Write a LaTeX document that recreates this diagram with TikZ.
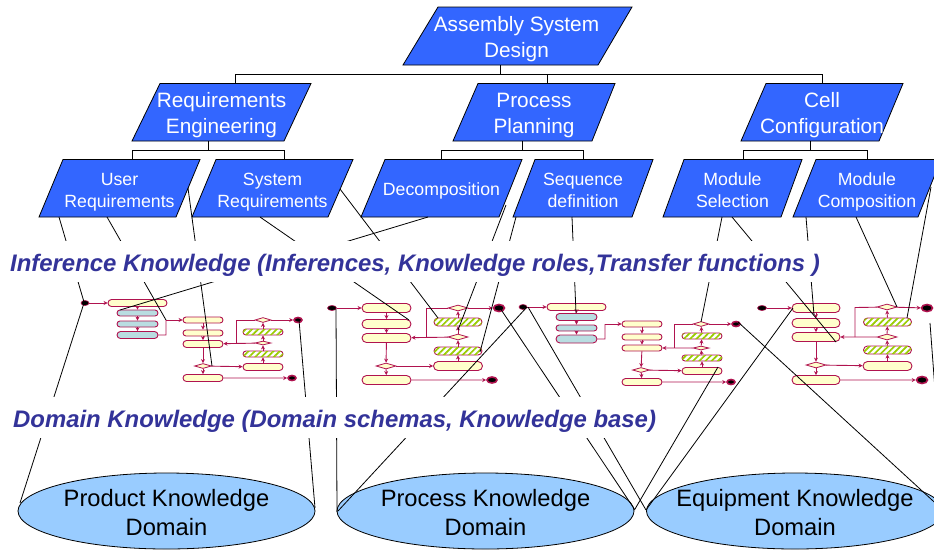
\documentclass[tikz,border=0pt]{standalone}
\usepackage{fontspec}
\setmainfont{Liberation Sans}
\usetikzlibrary{shapes.geometric,shapes.misc,arrows.meta,patterns.meta,fit}
\definecolor{boxblue}{HTML}{3366FF}
\definecolor{domblue}{HTML}{99CCFF}
\definecolor{headblue}{HTML}{333399}
\definecolor{actred}{HTML}{B0134F}
\definecolor{creamc}{HTML}{FFFFCC}
\definecolor{tealc}{HTML}{B9DDE1}
\definecolor{hatchc}{HTML}{99CC00}
\newcommand{\bandtext}[1]{\smash{\raisebox{-10pt}{#1}}}
% name, x top-left, x top-right, x bottom-right, x bottom-left, y top, y bottom, label style, text
\newcommand{\slantbox}[9]{%
  \filldraw[parashape] (#2,#6) -- (#3,#6) -- (#4,#7) -- (#5,#7) -- cycle;
  \coordinate (#1nw) at (#5,#6); \coordinate (#1se) at (#3,#7);
  \node[fit=(#1nw)(#1se),inner sep=0pt,label={[#8]center:{#9}}] (#1) {};
}
\tikzset{
  parashape/.style={draw=black,line width=.8pt,fill=boxblue},
  bigtext/.style={text=white,align=center,inner sep=0pt,font=\fontsize{20.8}{25.6}\selectfont},
  smalltext/.style={text=white,align=center,inner sep=0pt,font=\fontsize{17.7}{22}\selectfont},
  domnode/.style={ellipse,draw=black,line width=.8pt,fill=domblue,minimum width=297pt,minimum height=76pt,inner sep=0pt},
  domtext/.style={align=center,inner sep=0pt,yshift=-1.5pt,font=\fontsize{23.7}{29}\selectfont},
  treeline/.style={draw=black,line width=.9pt},
  linkline/.style={draw=black,line width=.8pt},
  bandhead/.style={fill=white,text=headblue,inner xsep=2pt,inner ysep=0pt,minimum height=41pt,anchor=west,
    font=\fontsize{23.9}{26}\selectfont\bfseries\itshape},
  pillnode/.style 2 args={rounded rectangle,draw=actred,line width=.9pt,fill=creamc,inner sep=0pt,minimum width=#1pt,minimum height=#2pt},
  tealnode/.style 2 args={pillnode={#1}{#2},fill=tealc},
  hatchnode/.style 2 args={pillnode={#1}{#2},fill=white,postaction={pattern={Lines[angle=45,distance=4.4pt,line width=1.7pt]},pattern color=hatchc}},
  decnode/.style 2 args={diamond,draw=actred,line width=.8pt,fill=creamc,inner sep=0pt,minimum width=#1pt,minimum height=#2pt},
  startnode/.style 2 args={ellipse,draw=actred,line width=.6pt,fill=black,inner sep=0pt,minimum width=#1pt,minimum height=#2pt},
  endnode/.style 2 args={ellipse,draw=actred,line width=1.6pt,fill=black,inner sep=0pt,minimum width=#1pt,minimum height=#2pt},
  flowline/.style={draw=actred,line width=.9pt,-{Stealth[length=4pt,width=4pt]}},
  flowplain/.style={draw=actred,line width=.9pt},
}
\begin{document}
\begin{tikzpicture}[x=1pt,y=-1pt]
\useasboundingbox (0,0) rectangle (934,550);
\clip (0,0) rectangle (934,550);
% domains
\node[domnode,label={[domtext]center:{Product Knowledge\\Domain}}] (dprod) at (166.5,511) {};
\node[domnode,label={[domtext]center:{Process Knowledge\\Domain}}] (dproc) at (485.5,511) {};
\node[domnode,label={[domtext]center:{Equipment Knowledge\\Domain}}] (dequip) at (795,511) {};
% hierarchy
\slantbox{top}{438}{632}{598}{403}{7}{65}{bigtext,xshift=-1pt,yshift=-3pt}{Assembly System\\Design}
\slantbox{req}{160}{311}{284}{132}{83.5}{141}{bigtext,yshift=-3pt}{Requirements\\Engineering}
\slantbox{proc}{478}{615}{592}{453}{83.5}{141}{bigtext,yshift=-3pt}{Process\\Planning}
\slantbox{cell}{766}{903}{879}{741}{83.5}{141}{bigtext,yshift=-3pt}{Cell\\Configuration}
\slantbox{user}{63}{200}{176}{39}{159.5}{217}{smalltext,yshift=-4pt}{User\\Requirements}
\slantbox{sys}{216}{353}{328}{192}{159.5}{217}{smalltext,yshift=-4pt}{System\\Requirements}
\slantbox{deco}{385}{522}{499}{361}{159.5}{217}{smalltext,yshift=-3pt}{Decomposition}
\slantbox{seq}{535}{653}{632}{513}{159.5}{217}{smalltext,yshift=-2pt}{Sequence\\definition}
\slantbox{modsel}{684}{802}{781}{663}{159.5}{217}{smalltext,yshift=-2pt}{Module\\Selection}
\slantbox{modcomp}{816}{941}{918}{793}{159.5}{217}{smalltext,yshift=-4pt}{Module\\Composition}
\coordinate (b0) at (500,74); \coordinate (bL) at (235,74); \coordinate (bM) at (547,74); \coordinate (bR) at (822,74);
\draw[treeline] (top.south -| b0) -- (b0);
\draw[treeline] (req.north -| bL) -- (bL) -- (bR) -- (cell.north -| bR);
\draw[treeline] (bM) -- (proc.north -| bM);
\coordinate (r0) at (208,150); \coordinate (rL) at (132,150); \coordinate (rR) at (284,150);
\draw[treeline] (req.south -| r0) -- (r0);
\draw[treeline] (user.north -| rL) -- (rL) -- (rR) -- (sys.north -| rR);
\coordinate (p0) at (522,150); \coordinate (pL) at (441,150); \coordinate (pR) at (583,150);
\draw[treeline] (proc.south -| p0) -- (p0);
\draw[treeline] (deco.north -| pL) -- (pL) -- (pR) -- (seq.north -| pR);
\coordinate (c0) at (810,150); \coordinate (cL) at (743,150); \coordinate (cR) at (867,150);
\draw[treeline] (cell.south -| c0) -- (c0);
\draw[treeline] (modsel.north -| cL) -- (cL) -- (cR) -- (modcomp.north -| cR);

% activity 1
\node[startnode={8}{5}] (as) at (85,303) {};
\node[pillnode={59}{7}] (a0) at (137.5,303) {};
\node[tealnode={41}{6}] (at1) at (137.5,313) {};
\node[tealnode={41}{6}] (at2) at (137.5,324) {};
\node[tealnode={41}{7}] (at3) at (137.5,335) {};
\node[pillnode={40}{6}] (a1) at (203,320) {};
\node[pillnode={40}{6}] (a2) at (203,333) {};
\node[pillnode={40}{7}] (a3) at (203,344) {};
\node[decnode={17}{5}] (ad1) at (203,366) {};
\node[pillnode={40}{7}] (a4) at (203,378) {};
\node[pillnode={40}{7}] (ar) at (263,367) {};
\node[hatchnode={40}{6}] (ag1) at (263,354) {};
\node[decnode={16}{4}] (ad2) at (263,343) {};
\node[hatchnode={40}{6}] (ag2) at (263,332) {};
\node[decnode={16}{5}] (ad3) at (263,320) {};
\node[endnode={8}{5}] (ae1) at (298,320) {};
\node[endnode={8}{5}] (ae2) at (292,378) {};
\coordinate (aj1) at (166,335); \coordinate (aj2) at (166,320); \coordinate (aj3) at (236,343); \coordinate (aj4) at (236,320);
\draw[flowline] (as) -- (a0);
\draw[flowline] (a0) -- (at1);
\draw[flowline] (at1) -- (at2);
\draw[flowline] (at2) -- (at3);
\draw[flowplain] (at3) -- (aj1) -- (aj2);
\draw[flowline] (aj2) -- (a1);
\draw[flowline] (a1) -- (a2);
\draw[flowline] (a2) -- (a3);
\draw[flowline] (a3) -- (ad1);
\draw[flowline] (ad1) -- (a4);
\draw[flowline] (a4) -- (ae2);
\draw[flowline] (ad1) -- (ar);
\draw[flowline] (ar) -- (ag1);
\draw[flowline] (ag1) -- (ad2);
\draw[flowline] (ad2) -- (ag2);
\draw[flowline] (ag2) -- (ad3);
\draw[flowline] (ad3) -- (ae1);
\draw[flowline] (ad2) -- (a3);
\draw[flowplain] (ad3) -- (aj4) -- (aj3);

% activity 2
\node[startnode={9}{5}] (bs) at (332,308) {};
\node[pillnode={49}{9}] (b1) at (386.5,308) {};
\node[pillnode={49}{9}] (b2) at (386.5,324) {};
\node[pillnode={49}{9}] (b3) at (386.5,338) {};
\node[decnode={20}{6}] (bd1) at (386,366) {};
\node[pillnode={49}{9}] (b4) at (386.5,380) {};
\node[pillnode={49}{9}] (br) at (458,366) {};
\node[hatchnode={48}{8}] (bg1) at (458,351) {};
\node[decnode={20}{6}] (bd2) at (458,337) {};
\node[hatchnode={48}{8}] (bg2) at (458,322) {};
\node[decnode={20}{6}] (bd3) at (458,308) {};
\node[endnode={11}{7}] (be1) at (499,308) {};
\node[endnode={10}{6}] (be2) at (492,380) {};
\coordinate (bj3) at (426,337.5); \coordinate (bj4) at (426,308);
\draw[flowline] (bs) -- (b1);
\draw[flowline] (b1) -- (b2);
\draw[flowline] (b2) -- (b3);
\draw[flowline] (b3) -- (bd1);
\draw[flowline] (bd1) -- (b4);
\draw[flowline] (b4) -- (be2);
\draw[flowline] (bd1) -- (br);
\draw[flowline] (br) -- (bg1);
\draw[flowline] (bg1) -- (bd2);
\draw[flowline] (bd2) -- (bg2);
\draw[flowline] (bg2) -- (bd3);
\draw[flowline] (bd3) -- (be1);
\draw[flowline] (bd2) -- (b3);
\draw[flowplain] (bd3) -- (bj4) -- (bj3);

% activity 3
\node[startnode={8}{5}] (cs) at (523,307) {};
\node[pillnode={59}{7}] (c0n) at (576.5,307) {};
\node[tealnode={41}{7}] (ct1) at (576.5,317) {};
\node[tealnode={41}{6}] (ct2) at (576.5,328) {};
\node[tealnode={41}{8}] (ct3) at (576.5,339) {};
\node[pillnode={40}{6}] (c1) at (642,324) {};
\node[pillnode={40}{6}] (c2) at (642,337) {};
\node[pillnode={40}{6}] (c3) at (642,348) {};
\node[decnode={17}{5}] (cd1) at (641,370) {};
\node[pillnode={40}{7}] (c4) at (642,382) {};
\node[pillnode={40}{7}] (cr) at (702,371) {};
\node[hatchnode={40}{6}] (cg1) at (702,358) {};
\node[decnode={16}{4}] (cd2) at (701,348) {};
\node[hatchnode={40}{6}] (cg2) at (702,336) {};
\node[decnode={16}{5}] (cd3) at (701,324) {};
\node[endnode={8}{5}] (ce1) at (736,324) {};
\node[endnode={8}{5}] (ce2) at (731,382) {};
\coordinate (cj1) at (605,339); \coordinate (cj2) at (605,324); \coordinate (cj3) at (674,348); \coordinate (cj4) at (674,324);
\draw[flowline] (cs) -- (c0n);
\draw[flowline] (c0n) -- (ct1);
\draw[flowline] (ct1) -- (ct2);
\draw[flowline] (ct2) -- (ct3);
\draw[flowplain] (ct3) -- (cj1) -- (cj2);
\draw[flowline] (cj2) -- (c1);
\draw[flowline] (c1) -- (c2);
\draw[flowline] (c2) -- (c3);
\draw[flowline] (c3) -- (cd1);
\draw[flowline] (cd1) -- (c4);
\draw[flowline] (c4) -- (ce2);
\draw[flowline] (cd1) -- (cr);
\draw[flowline] (cr) -- (cg1);
\draw[flowline] (cg1) -- (cd2);
\draw[flowline] (cd2) -- (cg2);
\draw[flowline] (cg2) -- (cd3);
\draw[flowline] (cd3) -- (ce1);
\draw[flowline] (cd2) -- (c3);
\draw[flowplain] (cd3) -- (cj4) -- (cj3);

% activity 4
\node[startnode={9}{5}] (ds) at (762,308) {};
\node[pillnode={48}{9}] (d1) at (816,308) {};
\node[pillnode={48}{9}] (d2) at (816,323) {};
\node[pillnode={48}{9}] (d3) at (816,337) {};
\node[decnode={20}{6}] (dd1) at (816,365) {};
\node[pillnode={48}{9}] (d4) at (816,380) {};
\node[pillnode={49}{9}] (dr) at (887.5,366) {};
\node[hatchnode={48}{8}] (dg1) at (887.5,350) {};
\node[decnode={20}{6}] (dd2) at (887,337) {};
\node[hatchnode={48}{8}] (dg2) at (887.5,322) {};
\node[decnode={20}{6}] (dd3) at (887,307) {};
\node[endnode={11}{7}] (de1) at (927,308) {};
\node[endnode={11}{7}] (de2) at (922,380) {};
\coordinate (dj3) at (855,337); \coordinate (dj4) at (855,307.5);
\draw[flowline] (ds) -- (d1);
\draw[flowline] (d1) -- (d2);
\draw[flowline] (d2) -- (d3);
\draw[flowline] (d3) -- (dd1);
\draw[flowline] (dd1) -- (d4);
\draw[flowline] (d4) -- (de2);
\draw[flowline] (dd1) -- (dr);
\draw[flowline] (dr) -- (dg1);
\draw[flowline] (dg1) -- (dd2);
\draw[flowline] (dd2) -- (dg2);
\draw[flowline] (dg2) -- (dd3);
\draw[flowline] (dd3) -- (de1);
\draw[flowline] (dd2) -- (d3);
\draw[flowplain] (dd3) -- (dj4) -- (dj3);

% black links upper
\coordinate (k1a) at (59,217);   \coordinate (k1b) at (84,302);   \draw[linkline] (k1a) -- (k1b);
\coordinate (k2a) at (107,217);  \coordinate (k2b) at (166,320);  \draw[linkline] (k2a) -- (k2b);
\coordinate (k3a) at (188,188);  \coordinate (k3b) at (212,366);  \draw[linkline] (k3a) -- (k3b);
\coordinate (k4a) at (260,217);  \coordinate (k4b) at (409,320);  \draw[linkline] (k4a) -- (k4b);
\coordinate (k5a) at (340,189);  \coordinate (k5b) at (438,318);  \draw[linkline] (k5a) -- (k5b);
\coordinate (k6a) at (428,217);  \coordinate (k6b) at (120,310);  \draw[linkline] (k6a) -- (k6b);
\coordinate (k7a) at (506,205);  \coordinate (k7b) at (458,330);  \draw[linkline] (k7a) -- (k7b);
\coordinate (k8a) at (516,217);  \coordinate (k8b) at (480,352);  \draw[linkline] (k8a) -- (k8b);
\coordinate (k9a) at (572,217);  \coordinate (k9b) at (576,313);  \draw[linkline] (k9a) -- (k9b);
\coordinate (k10a) at (722,217); \coordinate (k10b) at (701,322); \draw[linkline] (k10a) -- (k10b);
\coordinate (k11a) at (732,217); \coordinate (k11b) at (836,342); \draw[linkline] (k11a) -- (k11b);
\coordinate (k12a) at (806,217); \coordinate (k12b) at (814,315); \draw[linkline] (k12a) -- (k12b);
\coordinate (k13a) at (856,217); \coordinate (k13b) at (897,307); \draw[linkline] (k13a) -- (k13b);
\coordinate (k14a) at (931,187); \coordinate (k14b) at (907,318); \draw[linkline] (k14a) -- (k14b);
% black links lower
\coordinate (m1a) at (84,303);   \coordinate (m1b) at (20,503);   \draw[linkline] (m1a) -- (m1b);
\coordinate (m2a) at (299,320);  \coordinate (m2b) at (315,508);  \draw[linkline] (m2a) -- (m2b);
\coordinate (m3a) at (336,309);  \coordinate (m3b) at (337,512);  \draw[linkline] (m3a) -- (m3b);
\coordinate (m4a) at (527,307);  \coordinate (m4b) at (338,511);  \draw[linkline] (m4a) -- (m4b);
\coordinate (m5a) at (500,308);  \coordinate (m5b) at (635,510);  \draw[linkline] (m5a) -- (m5b);
\coordinate (m6a) at (528,307);  \coordinate (m6b) at (646,510);  \draw[linkline] (m6a) -- (m6b);
\coordinate (m7a) at (718,367);  \coordinate (m7b) at (635,509);  \draw[linkline] (m7a) -- (m7b);
\coordinate (m8a) at (793,308);  \coordinate (m8b) at (646,510);  \draw[linkline] (m8a) -- (m8b);
\coordinate (m9a) at (738,322);  \coordinate (m9b) at (944,511);  \draw[linkline] (m9a) -- (m9b);
\coordinate (m10a) at (930,323); \coordinate (m10b) at (938,430); \draw[linkline] (m10a) -- (m10b);

% band headings
\node[bandhead] (inf) at (8,261.5) {\bandtext{Inference Knowledge (Inferences, Knowledge roles,Transfer functions )}};
\node[bandhead] (dom) at (11,417.5) {\bandtext{Domain Knowledge (Domain schemas, Knowledge base)}};
\end{tikzpicture}
\end{document}
